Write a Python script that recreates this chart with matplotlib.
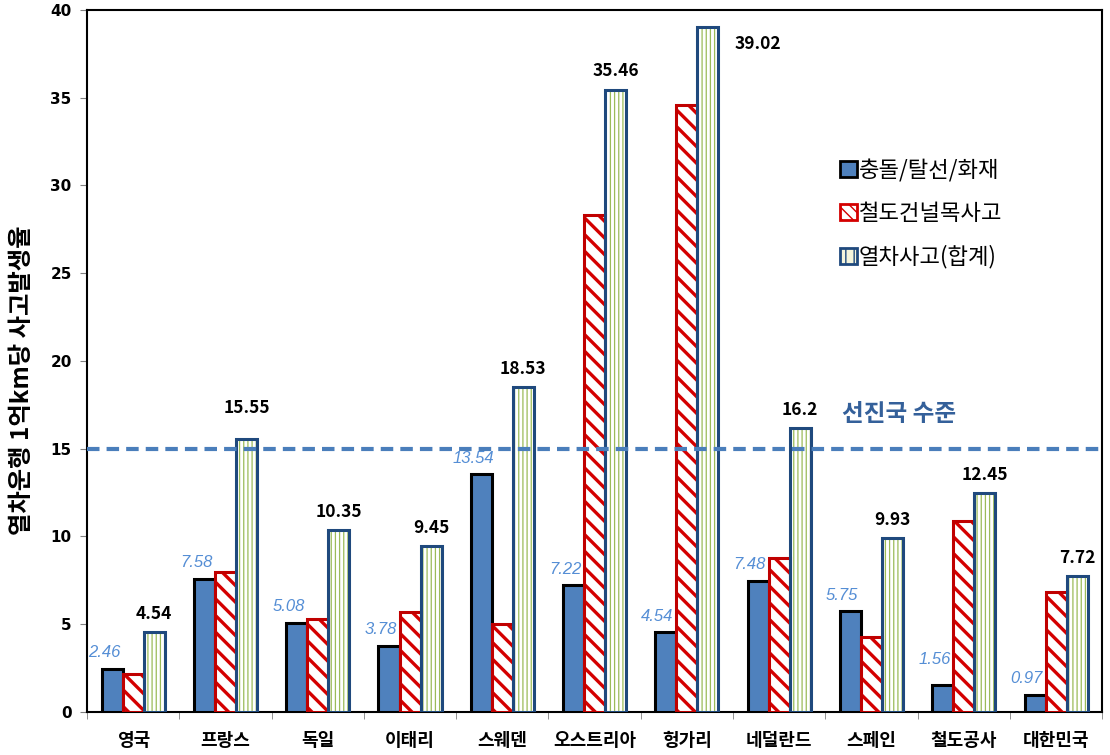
import matplotlib.pyplot as plt
import numpy as np
from matplotlib.patches import Patch

plt.rcParams["font.family"] = ["Noto Sans CJK KR", "DejaVu Sans"]

countries = ["영국", "프랑스", "독일", "이태리", "스웨덴", "오스트리아",
             "헝가리", "네덜란드", "스페인", "철도공사", "대한민국"]
collision = [2.46, 7.58, 5.08, 3.78, 13.54, 7.22, 4.54, 7.48, 5.75, 1.56, 0.97]
crossing = [2.15, 8.0, 5.3, 5.7, 5.0, 28.3, 34.6, 8.75, 4.25, 10.9, 6.84]
total = [4.54, 15.55, 10.35, 9.45, 18.53, 35.46, 39.02, 16.2, 9.93, 12.45, 7.72]
series_names = ["충돌/탈선/화재", "철도건널목사고", "열차사고(합계)"]
advanced_level = 15
advanced_label = "선진국 수준"
ylabel = "열차운행 1억km당 사고발생율"

BLUE = "#4f81bd"
RED = "#c00000"
NAVY = "#1f497d"
GREEN = "#9bbb59"

x = np.arange(len(countries))
w = 0.228

fig, ax = plt.subplots(figsize=(11.1, 7.55), dpi=100)
fig.subplots_adjust(left=0.0784, right=0.993, bottom=0.057, top=0.987)

ax.bar(x - w, collision, w, color=BLUE, edgecolor="black", linewidth=2.2, zorder=3)

red_bars = ax.bar(x, crossing, w, color="white", edgecolor="#d40000",
                  hatch="\\\\", linewidth=0, zorder=3)
ax.bar(x, crossing, w, fill=False, edgecolor=RED, linewidth=2.2, zorder=4)

tot_bars = ax.bar(x + w, total, w, color="white", edgecolor=GREEN,
                  hatch="||||", linewidth=0, zorder=3)
ax.bar(x + w, total, w, fill=False, edgecolor=NAVY, linewidth=2.2, zorder=4)

for p in red_bars:
    if hasattr(p, "set_hatch_linewidth"):
        p.set_hatch_linewidth(2.4)
for p in tot_bars:
    if hasattr(p, "set_hatch_linewidth"):
        p.set_hatch_linewidth(0.9)

# value labels
for i, v in enumerate(collision):
    dy = 18 if i == 9 else 11.5
    ax.annotate(f"{v:.2f}", (x[i] - w, v), xytext=(-6, dy), textcoords="offset points",
                ha="center", va="center", fontsize=12, style="italic",
                family="Liberation Sans", color="#558ed5", zorder=6)

for i, v in enumerate(total):
    dx, dy = 0, 13
    if i == 1:
        dy = 22
    if i == 6:
        dx, dy = 36, -12
    ax.annotate(f"{v:g}", (x[i] + w, v), xytext=(dx, dy), textcoords="offset points",
                ha="center", va="center", fontsize=12.5, fontweight="bold",
                color="black", zorder=6)

ax.axhline(advanced_level, color="#4a7ebb", linewidth=3, linestyle=(0, (3, 1.7)), zorder=5)
ax.text(8.3, advanced_level + 2.0, advanced_label, ha="center", va="center",
        fontsize=17, fontweight="bold", color="#34609a")

ax.set_xlim(-0.5, len(countries) - 0.5)
ax.set_ylim(0, 40)
ax.set_yticks(np.arange(0, 41, 5))
ax.set_yticklabels([str(t) for t in range(0, 41, 5)], fontsize=11,
                   fontweight="bold", family="DejaVu Sans")
ax.set_xticks(x)
ax.set_xticklabels(countries, fontsize=13, fontweight="bold")
ax.set_xticks(np.arange(-0.5, len(countries), 1), minor=True)
ax.tick_params(axis="x", which="major", length=0, pad=14)
ax.tick_params(axis="x", which="minor", length=5, color="#808080", direction="out")
ax.tick_params(axis="y", length=5, color="#808080", direction="out", pad=6)

for s in ax.spines.values():
    s.set_linewidth(1.5)
    s.set_color("black")

ax.set_ylabel(ylabel, fontsize=17.5, fontweight="bold")
ax.yaxis.set_label_coords(-0.052, 0.473)

handles = [
    Patch(facecolor=BLUE, edgecolor="black", linewidth=2),
    Patch(facecolor="white", edgecolor="#d40000", hatch="\\\\\\", linewidth=2),
    Patch(facecolor="#f5f5dc", edgecolor=NAVY, hatch="||", linewidth=2),
]
ax.legend(handles, series_names, loc="upper left", bbox_to_anchor=(820 / 1110, 1 - 139 / 755),
          bbox_transform=fig.transFigure, frameon=False, fontsize=16,
          handlelength=0.75, handleheight=0.75, handletextpad=0.1, labelspacing=0.9)

plt.savefig("out.png", dpi=100)
